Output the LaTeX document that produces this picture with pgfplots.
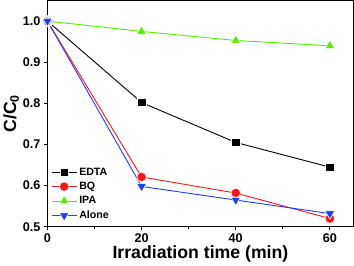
\documentclass[border=0pt]{standalone}
\usepackage{pgfplots}
\pgfplotsset{compat=1.18}
\usepackage{fontspec}
\setmainfont{Liberation Sans}
\definecolor{cgreen}{RGB}{90,235,0}
\definecolor{cblue}{RGB}{30,60,255}
\definecolor{cred}{RGB}{255,20,20}
\begin{document}
\begin{tikzpicture}
\begin{axis}[
  scale only axis,
  width=303bp, height=224bp,
  xmin=0, xmax=65, ymin=0.5, ymax=1.05,
  xtick={0,20,40,60}, minor xtick={10,30,50},
  ytick={0.5,0.6,0.7,0.8,0.9,1.0},
  yticklabel style={/pgf/number format/.cd,fixed,fixed zerofill,precision=1},
  /pgf/number format/assume math mode=true,
  tick align=outside,
  xtick pos=bottom, ytick pos=left,
  major tick length=3.5bp, minor tick length=2bp,
  axis line style={line width=1.1pt},
  every tick/.style={line width=0.9pt,black},
  ticklabel style={font=\fontsize{12.5bp}{13bp}\selectfont\bfseries},
  xlabel={Irradiation time (min)},
  ylabel={C/C\textsubscript{0}},
  xlabel style={font=\fontsize{17.5bp}{18bp}\selectfont\bfseries, yshift=4bp},
  ylabel style={font=\fontsize{17.5bp}{18bp}\selectfont\bfseries, yshift=-3bp},
  clip=false,
  legend style={draw=none, fill=none, at={(0.008,0.015)}, anchor=south west,
    font=\fontsize{10.5bp}{11bp}\selectfont\bfseries, row sep=1.5bp,
    inner sep=1bp},
  legend cell align=left,
  legend image code/.code={\draw[mark repeat=2,mark phase=2] plot coordinates {(0bp,0bp) (12.5bp,0bp) (25bp,0bp)};},
  every axis plot/.append style={line width=0.9pt},
]
\addplot[black, mark=square*, mark size=4.2bp, mark options={fill=black, draw=white, line width=0.6pt}]
  coordinates {(0,1.0) (20,0.802) (40,0.705) (60,0.645)};
\addlegendentry{EDTA}
\addplot[cred, mark=*, mark size=4.7bp, mark options={fill=cred, draw=white, line width=0.6pt}]
  coordinates {(0,1.0) (20,0.621) (40,0.582) (60,0.520)};
\addlegendentry{BQ}
\addplot[cgreen, mark=triangle*, mark size=5.5bp, mark options={fill=cgreen, draw=white, line width=0.6pt}]
  coordinates {(0,1.0) (20,0.975) (40,0.953) (60,0.940)};
\addlegendentry{IPA}
\addplot[cblue, mark=triangle*, mark size=5.5bp, mark options={fill=cblue, draw=white, line width=0.6pt, rotate=180}]
  coordinates {(0,1.0) (20,0.598) (40,0.565) (60,0.532)};
\addlegendentry{Alone}
\end{axis}
\end{tikzpicture}
\end{document}
